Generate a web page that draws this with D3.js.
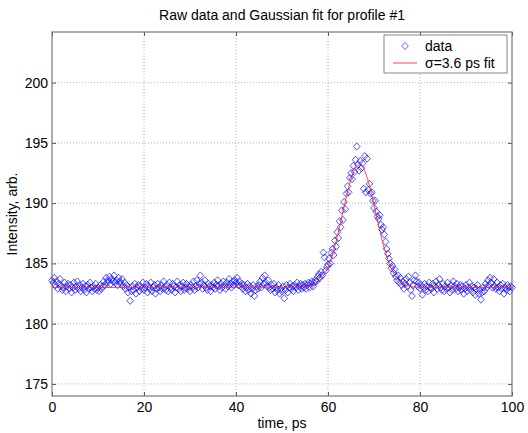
<!DOCTYPE html>
<html>
<head>
<meta charset="utf-8">
<script src="https://cdn.jsdelivr.net/npm/d3@7"></script>
<style>
  body { margin: 0; background: #fff; }
  text { font-family: "Liberation Sans", Arial, sans-serif; fill: #000; }
</style>
</head>
<body>
<div id="chart"></div>
<script>
// sampled intensity, one value every 0.25 ps starting at t = 0
const tStart = 0;
const tStep = 0.25;
const intensity = [
    183.6,183.4,183.8,183.2,183.5,182.9,183.3,183.7,183.1,182.8,183.0,183.4,182.7,183.1,183.3,182.9,183.2,182.6,183.0,183.4,
    182.8,183.1,183.5,182.9,183.2,182.7,183.0,183.3,182.8,183.1,182.6,183.2,182.9,183.4,183.0,182.7,183.1,182.9,183.3,182.8,
    183.0,182.7,183.2,182.9,183.1,183.5,183.2,183.8,183.4,183.6,183.9,183.3,183.7,183.5,184.0,183.4,183.6,183.2,183.8,183.5,
    183.3,183.7,183.1,183.4,182.9,183.2,182.6,183.0,181.9,182.7,183.1,182.8,183.3,182.5,183.0,183.2,182.7,183.1,182.9,183.4,
    182.8,183.0,183.3,182.6,183.1,182.9,183.4,182.7,183.0,183.2,182.5,182.9,183.3,183.0,182.7,183.2,182.9,183.5,183.0,182.8,
    183.2,182.7,183.4,183.0,182.8,183.3,183.1,182.6,183.0,183.5,182.9,183.2,182.7,183.1,183.4,182.8,183.0,183.3,182.9,183.1,
    182.7,183.2,183.0,183.5,182.8,183.1,183.6,183.0,183.3,184.0,183.4,182.9,183.2,183.6,183.0,182.8,183.3,183.1,182.7,183.2,
    183.0,183.4,182.9,183.2,183.6,183.1,182.8,183.3,183.0,183.5,183.2,182.9,183.4,183.1,183.7,183.3,183.0,183.5,183.2,183.6,
    183.4,183.8,183.2,183.5,183.1,183.3,182.9,183.2,182.7,183.0,183.3,182.8,183.1,182.5,182.9,183.2,182.3,182.8,183.1,182.9,
    183.2,183.5,183.0,183.8,183.3,184.0,183.4,183.1,183.6,183.0,182.8,183.2,182.9,183.3,182.6,183.0,182.8,183.2,182.5,182.9,
    182.7,183.1,182.1,182.8,183.2,182.6,183.0,183.3,182.9,183.1,182.7,183.2,183.0,183.4,182.8,183.1,183.3,182.9,183.2,183.0,
    183.3,182.9,183.2,183.4,183.0,183.3,183.5,183.1,183.4,183.6,183.5,183.9,184.1,183.8,184.3,184.0,185.9,185.5,184.4,184.7,
    184.9,185.4,185.0,185.9,186.2,185.7,186.9,186.4,187.6,187.1,188.5,188.0,189.4,188.6,190.1,189.5,190.8,191.4,190.9,192.1,
    192.5,192.0,193.1,192.6,193.6,194.7,193.2,192.7,193.5,192.9,193.3,191.2,193.9,190.9,193.7,191.1,191.6,190.8,190.9,190.2,
    189.6,190.2,189.3,188.9,188.7,189.0,188.2,187.8,188.0,187.4,186.8,186.2,185.8,185.4,185.0,184.6,184.8,184.2,184.5,183.9,
    183.6,184.0,183.4,183.8,183.2,183.5,182.9,183.3,183.7,183.1,183.9,183.4,182.8,182.3,183.2,183.6,184.0,183.5,183.1,183.4,
    182.9,183.2,182.4,183.0,183.3,182.8,183.1,182.7,183.4,183.0,182.9,183.3,182.6,183.1,183.5,182.9,183.2,183.7,183.0,182.8,
    183.3,182.7,183.1,182.9,183.4,183.0,182.6,183.2,182.8,183.5,183.1,182.9,183.3,182.7,183.0,183.2,182.8,183.1,182.5,182.9,
    183.2,182.7,183.0,183.4,182.8,183.1,182.6,183.0,182.4,182.9,183.2,182.5,182.8,182.0,182.6,183.0,182.7,183.3,183.0,183.6,
    183.2,183.8,183.4,183.0,183.7,183.1,182.9,183.4,183.0,182.7,183.2,182.9,183.3,182.5,183.0,182.8,183.2,183.0,182.7,183.1,
    183.0
];

// gaussian fit curve (sigma = 3.6 ps)
const fitTime = [0, 54, 55, 56, 57, 58, 59, 60, 61, 62, 63, 64, 65, 66, 67, 68, 69, 70,
                 71, 72, 73, 74, 75, 76, 77, 78, 79, 80, 100];
const fitValue = [183.0, 183.02, 183.05, 183.11, 183.25, 183.51, 183.98, 184.71, 185.79, 187.19, 188.84, 190.54,
                  192.0, 192.95, 193.18, 192.65, 191.46, 189.87, 188.16, 186.59, 185.32, 184.38, 183.76,
                  183.39, 183.18, 183.08, 183.03, 183.01, 183.0];

const xTicks = [0, 20, 40, 60, 80, 100];
const yTicks = [175, 180, 185, 190, 195, 200];
const legendLabels = ["data", "\u03c3=3.6 ps fit"];

let margin = {top: 32, right: 16, bottom: 37, left: 52};
let width = 528 - margin.left - margin.right;
let height = 433 - margin.top - margin.bottom;

let svg = d3.select("#chart").append("svg")
    .attr("width", 528)
    .attr("height", 433);

let g = svg.append("g")
    .attr("transform", `translate(${margin.left},${margin.top})`);

let x = d3.scaleLinear().domain([0, 100]).range([0, width]);
let y = d3.scaleLinear().domain([174, 204.2]).range([height, 0]);

// dotted grid
g.append("g").selectAll("line")
    .data(xTicks.slice(1, -1))
    .enter().append("line")
    .attr("x1", d => x(d)).attr("x2", d => x(d))
    .attr("y1", 0).attr("y2", height)
    .attr("stroke", "#b4b4b4").attr("stroke-width", 1)
    .attr("stroke-dasharray", "1,2");

g.append("g").selectAll("line")
    .data(yTicks)
    .enter().append("line")
    .attr("x1", 0).attr("x2", width)
    .attr("y1", d => y(d)).attr("y2", d => y(d))
    .attr("stroke", "#b4b4b4").attr("stroke-width", 1)
    .attr("stroke-dasharray", "1,2");

// data markers
let points = intensity.map((v, i) => ({t: tStart + i * tStep, v: v}));

g.append("g").selectAll("path")
    .data(points)
    .enter().append("path")
    .attr("d", "M0,-3.6L3.3,0L0,3.6L-3.3,0Z")
    .attr("transform", d => `translate(${x(d.t)},${y(d.v)})`)
    .attr("fill", "none")
    .attr("stroke", "#0000ff")
    .attr("stroke-opacity", 0.85)
    .attr("stroke-width", 0.8);

// fit line
let line = d3.line()
    .x(d => x(d[0]))
    .y(d => y(d[1]))
    .curve(d3.curveMonotoneX);

g.append("path")
    .datum(fitTime.map((t, i) => [t, fitValue[i]]))
    .attr("d", line)
    .attr("fill", "none")
    .attr("stroke", "#ff3030")
    .attr("stroke-width", 0.9);

// axes (matlab style: ticks inward on all four sides)
let axisStyle = sel => {
    sel.select(".domain").remove();
    sel.selectAll(".tick line").attr("stroke", "#555");
    sel.selectAll(".tick text")
        .style("font-size", "14px")
        .style("font-family", "Liberation Sans, Arial, sans-serif");
};

g.append("g")
    .attr("transform", `translate(0,${height})`)
    .call(d3.axisBottom(x).tickValues(xTicks).tickSizeInner(-4).tickSizeOuter(0).tickPadding(6))
    .call(axisStyle);

g.append("g")
    .call(d3.axisTop(x).tickValues(xTicks).tickSizeInner(-4).tickSizeOuter(0).tickFormat(""))
    .call(axisStyle);

g.append("g")
    .call(d3.axisLeft(y).tickValues(yTicks).tickSizeInner(-4).tickSizeOuter(0).tickPadding(4))
    .call(axisStyle);

g.append("g")
    .attr("transform", `translate(${width},0)`)
    .call(d3.axisRight(y).tickValues(yTicks).tickSizeInner(-4).tickSizeOuter(0).tickFormat(""))
    .call(axisStyle);

// box
g.append("rect")
    .attr("width", width).attr("height", height)
    .attr("fill", "none")
    .attr("stroke", "#777")
    .attr("stroke-width", 1.2);

// title and labels
svg.append("text")
    .attr("x", margin.left + width / 2)
    .attr("y", 20)
    .attr("text-anchor", "middle")
    .style("font-size", "14px")
    .text("Raw data and Gaussian fit for profile #1");

svg.append("text")
    .attr("x", margin.left + width / 2)
    .attr("y", 428)
    .attr("text-anchor", "middle")
    .style("font-size", "14px")
    .text("time, ps");

svg.append("text")
    .attr("transform", `translate(17,${margin.top + height / 2}) rotate(-90)`)
    .attr("text-anchor", "middle")
    .style("font-size", "14px")
    .text("Intensity, arb.");

// legend
let legend = svg.append("g")
    .attr("transform", "translate(384,35)");

legend.append("rect")
    .attr("width", 123).attr("height", 38)
    .attr("fill", "#fff")
    .attr("stroke", "#666")
    .attr("stroke-width", 0.8);

legend.append("path")
    .attr("d", "M0,-3.6L3.3,0L0,3.6L-3.3,0Z")
    .attr("transform", "translate(21,11)")
    .attr("fill", "none")
    .attr("stroke", "#0000ff")
    .attr("stroke-opacity", 0.75)
    .attr("stroke-width", 0.8);

legend.append("line")
    .attr("x1", 9).attr("x2", 33)
    .attr("y1", 28).attr("y2", 28)
    .attr("stroke", "#ff3030")
    .attr("stroke-width", 0.9);

legend.selectAll(".leg-text")
    .data(legendLabels)
    .enter().append("text")
    .attr("class", "leg-text")
    .attr("x", 41)
    .attr("y", (d, i) => 16 + i * 17)
    .style("font-size", "14px")
    .text(d => d);
</script>
</body>
</html>
